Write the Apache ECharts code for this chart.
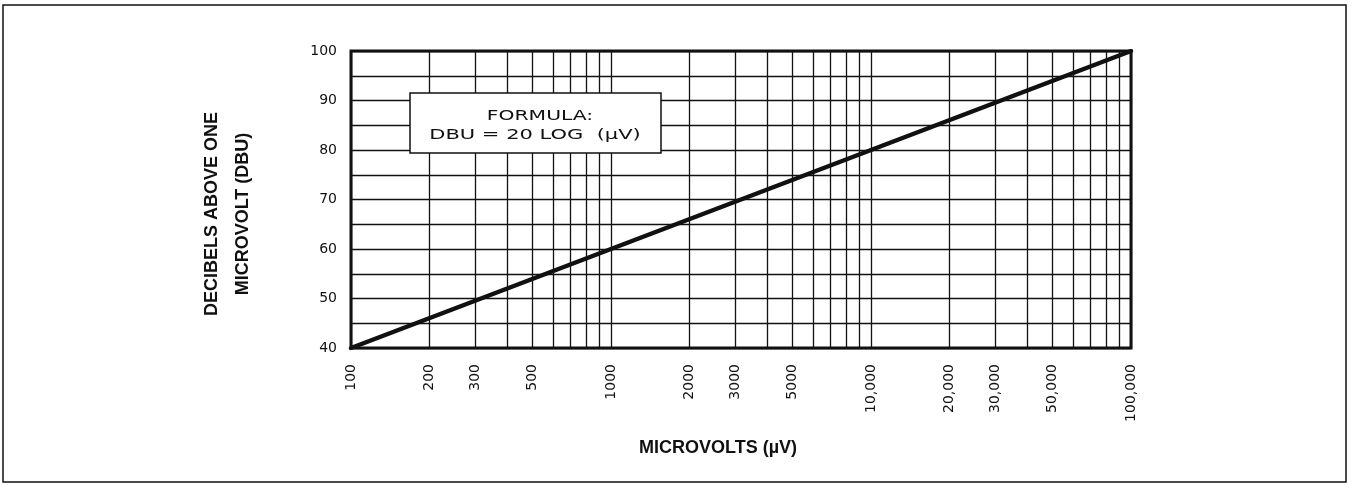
<!DOCTYPE html>
<html>
<head>
<meta charset="utf-8">
<script src="https://cdn.jsdelivr.net/npm/echarts@6/dist/echarts.min.js"></script>
<style>
  html, body { margin: 0; padding: 0; background: #ffffff; }
  #chart { width: 1352px; height: 485px; }
</style>
</head>
<body>
<div id="chart"></div>
<script>
// dBu = 20 log(µV): points on the straight line across the log scale
const microvolts = [100, 1000, 10000, 100000];
const dbu = [40, 60, 80, 100];

// Labelled positions on the microvolt axis
const xLabelValues = [100, 200, 300, 500, 1000, 2000, 3000, 5000, 10000, 20000, 30000, 50000, 100000];

// Vertical grid rulings (1..9 in every decade)
const xGridValues = [
  100, 200, 300, 400, 500, 600, 700, 800, 900,
  1000, 2000, 3000, 4000, 5000, 6000, 7000, 8000, 9000,
  10000, 20000, 30000, 40000, 50000, 60000, 70000, 80000, 90000,
  100000
];

// Decibel axis range and step of the horizontal rulings
const yMin = 40;
const yMax = 100;
const yStep = 5;
const yLabelStep = 10;

const INK = '#111111';
const TICK_FONT = 'DejaVu Sans';
const TITLE_FONT = 'Liberation Sans';

const chart = echarts.init(document.getElementById('chart'), null, { renderer: 'canvas' });

function formatMicrovolts(v) {
  return v >= 10000 ? String(v / 1000) + ',000' : String(v);
}

const gridTop = 51;
const gridBottom = 137;
const gridHeight = 485 - gridTop - gridBottom;

chart.setOption({
  backgroundColor: '#ffffff',
  animation: false,
  grid: {
    left: 351,
    right: 221,
    top: gridTop,
    bottom: gridBottom,
    show: true,
    borderColor: INK,
    borderWidth: 3,
    backgroundColor: 'transparent'
  },
  xAxis: {
    type: 'log',
    logBase: 10,
    min: 100,
    max: 100000,
    axisLine: { show: false },
    splitLine: { show: false },
    axisTick: {
      show: true,
      inside: true,
      length: gridHeight,
      customValues: xGridValues,
      lineStyle: { color: INK, width: 1.3 }
    },
    axisLabel: {
      customValues: xLabelValues,
      rotate: 90,
      margin: 16,
      color: INK,
      fontFamily: TICK_FONT,
      fontSize: 14,
      formatter: formatMicrovolts
    }
  },
  yAxis: {
    type: 'value',
    min: yMin,
    max: yMax,
    interval: yStep,
    axisLine: { show: false },
    axisTick: { show: false },
    splitLine: { show: true, lineStyle: { color: INK, width: 1.3 } },
    axisLabel: {
      margin: 14,
      color: INK,
      fontFamily: TICK_FONT,
      fontSize: 14,
      formatter: function (v) { return v % yLabelStep === 0 ? String(v) : ''; }
    }
  },
  series: [{
    type: 'line',
    data: microvolts.map(function (x, i) { return [x, dbu[i]]; }),
    symbol: 'none',
    z: 10,
    lineStyle: { color: INK, width: 4.5, cap: 'round' }
  }],
  graphic: [
    // outer frame
    {
      type: 'rect',
      shape: { x: 3, y: 5, width: 1343, height: 477 },
      style: { fill: 'none', stroke: INK, lineWidth: 1.5 },
      silent: true, z: 1
    },
    // formula box
    {
      type: 'rect',
      shape: { x: 410, y: 93, width: 251, height: 60 },
      style: { fill: '#ffffff', stroke: INK, lineWidth: 1.5 },
      silent: true, z: 20
    },
    {
      type: 'text',
      x: 540, y: 116,
      scaleX: 1.45,
      style: {
        text: 'FORMULA:',
        fill: INK,
        font: '14px "DejaVu Sans"',
        align: 'center',
        verticalAlign: 'middle'
      },
      silent: true, z: 21
    },
    {
      type: 'text',
      x: 535, y: 135,
      scaleX: 1.5,
      style: {
        text: 'DBU = 20 LOG  (µV)',
        fill: INK,
        font: '14px "DejaVu Sans"',
        align: 'center',
        verticalAlign: 'middle'
      },
      silent: true, z: 21
    },
    // axis titles
    {
      type: 'text',
      x: 228, y: 214,
      rotation: Math.PI / 2,
      style: {
        text: 'DECIBELS ABOVE ONE\nMICROVOLT (DBU)',
        fill: INK,
        font: 'bold 18px "Liberation Sans"',
        align: 'center',
        verticalAlign: 'middle',
        lineHeight: 31
      },
      silent: true, z: 21
    },
    {
      type: 'text',
      x: 718, y: 448,
      style: {
        text: 'MICROVOLTS (µV)',
        fill: INK,
        font: 'bold 18px "Liberation Sans"',
        align: 'center',
        verticalAlign: 'middle'
      },
      silent: true, z: 21
    }
  ]
});
</script>
</body>
</html>
